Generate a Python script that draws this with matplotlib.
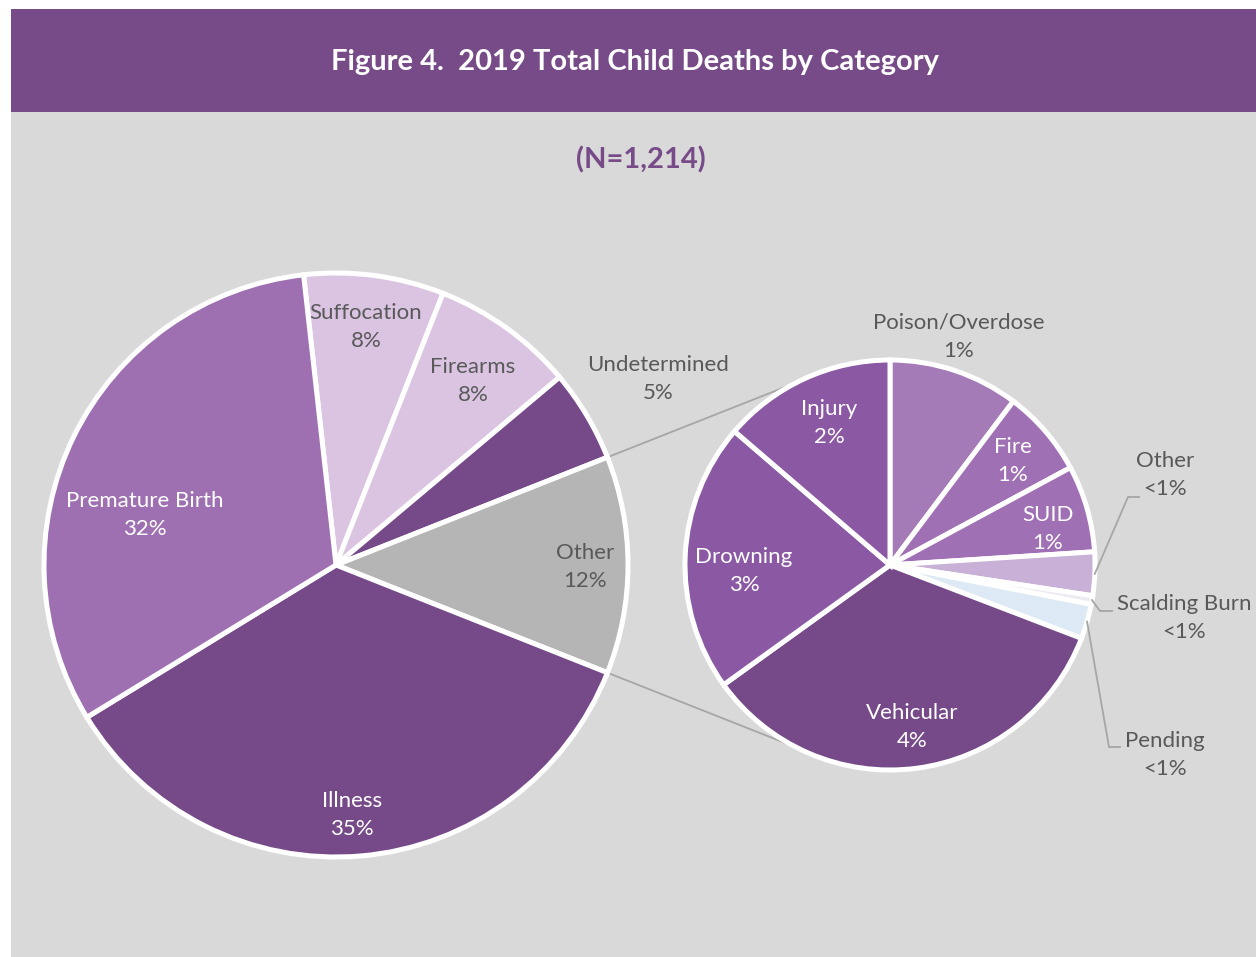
import numpy as np
import matplotlib.pyplot as plt
from matplotlib.patches import Rectangle

plt.rcParams['font.family'] = ['Lato', 'DejaVu Sans']

W, H = 1256, 957
N_TOTAL = 1214

# main pie, clockwise from the top
main_labels = ['Suffocation', 'Firearms', 'Undetermined', 'Other', 'Illness', 'Premature Birth']
main_counts = [94, 96, 62, 146, 428, 388]
main_colors = ['#DAC4E1', '#DAC4E1', '#764A89', '#B5B5B5', '#764A89', '#9E70B1']
main_text = ['#595959', '#595959', '#595959', '#595959', 'white', 'white']

# the "Other" slice broken down, clockwise from the top
sub_labels = ['Poison/Overdose', 'Fire', 'SUID', 'Other', 'Scalding Burn',
              'Pending', 'Vehicular', 'Drowning', 'Injury']
sub_counts = [15, 10, 10, 5, 1, 4, 50, 31, 20]
sub_colors = ['#A47BB7', '#A070B4', '#A070B4', '#C9B0D6', '#EEEAF2',
              '#DDE9F5', '#764A89', '#8B59A3', '#8B59A3']
sub_text = ['#595959', 'white', 'white', '#595959', '#595959',
            '#595959', 'white', 'white', 'white']

PURPLE = '#774B88'
BG = '#D9D9D9'
LINE = '#A6A6A6'


def img(x, y):
    # pixel position measured from the top-left corner -> data coords
    return x, H - y


def pct_label(name, c):
    p = 100 * c / N_TOTAL
    return f'{name}\n<1%' if round(p) < 1 else f'{name}\n{round(p)}%'


# label centres in pixels (top-left origin)
main_pos = [(366, 327), (473, 381), (658, 379), (585, 567), (352, 815), (145, 515)]
sub_pos = [(959, 337), (1013, 461), (1048, 529), (1165, 475), (1184, 618),
           (1165, 755), (912, 727), (744, 571), (829, 423)]
# bend points of the leader lines for the tiny slices
leaders = {3: [(1128, 497), (1139, 497)],
           4: [(1100, 611), (1112, 611)],
           5: [(1109, 747), (1120, 747)]}

main_c = img(336, 565)
main_r = 292
sub_c = img(890, 565)
sub_r = 205

fig = plt.figure(figsize=(W / 100, H / 100), dpi=100, facecolor='white')
ax = fig.add_axes([0, 0, 1, 1])

# panel background and title bar
ax.add_patch(Rectangle(img(11, 957), W - 11, 957 - 112, facecolor=BG, edgecolor='none', zorder=0))
ax.add_patch(Rectangle(img(11, 112), W - 11, 112 - 9, facecolor=PURPLE, edgecolor='none', zorder=0))

# rotate the main pie so "Other" faces the breakdown pie
tot = sum(main_counts)
before = sum(main_counts[:3]) / tot * 360
half_other = main_counts[3] / tot * 180
start = before + half_other

wedge_kw = dict(edgecolor='white', linewidth=3.6)
ax.pie(main_counts, colors=main_colors, startangle=start, counterclock=False,
       center=main_c, radius=main_r, wedgeprops=wedge_kw)
ax.pie(sub_counts, colors=sub_colors, startangle=90, counterclock=False,
       center=sub_c, radius=sub_r, wedgeprops=wedge_kw)

# connector lines between the two pies
for sgn in (1, -1):
    a1 = np.radians(sgn * half_other)
    a2 = np.radians(sgn * 117)
    ax.plot([main_c[0] + main_r * np.cos(a1), sub_c[0] + sub_r * np.cos(a2)],
            [main_c[1] + main_r * np.sin(a1), sub_c[1] + sub_r * np.sin(a2)],
            color=LINE, lw=1.3, zorder=0.5)

lab_kw = dict(ha='center', va='center', fontsize=16, linespacing=1.55)
for name, c, pos, col in zip(main_labels, main_counts, main_pos, main_text):
    ax.text(*img(*pos), pct_label(name, c), color=col, **lab_kw)

# sub pie labels, with leader lines for the thin slices
sub_tot = sum(sub_counts)
edges = 90 - np.cumsum([0] + sub_counts) / sub_tot * 360
for i, (name, c, pos, col) in enumerate(zip(sub_labels, sub_counts, sub_pos, sub_text)):
    ax.text(*img(*pos), pct_label(name, c), color=col, **lab_kw)
    if i in leaders:
        mid = np.radians((edges[i] + edges[i + 1]) / 2)
        xs = [sub_c[0] + sub_r * np.cos(mid)] + [img(*p)[0] for p in leaders[i]]
        ys = [sub_c[1] + sub_r * np.sin(mid)] + [img(*p)[1] for p in leaders[i]]
        ax.plot(xs, ys, color=LINE, lw=1.3, zorder=3)

ax.text(*img(635, 62), 'Figure 4.  2019 Total Child Deaths by Category',
        ha='center', va='center', color='white', fontsize=21, fontweight='bold')
ax.text(*img(641, 160), '(N=1,214)', ha='center', va='center',
        color=PURPLE, fontsize=21, fontweight='bold')

ax.set_xlim(0, W)
ax.set_ylim(0, H)
ax.set_aspect('equal')
ax.axis('off')

fig.savefig('out.png', dpi=100, facecolor='white')
